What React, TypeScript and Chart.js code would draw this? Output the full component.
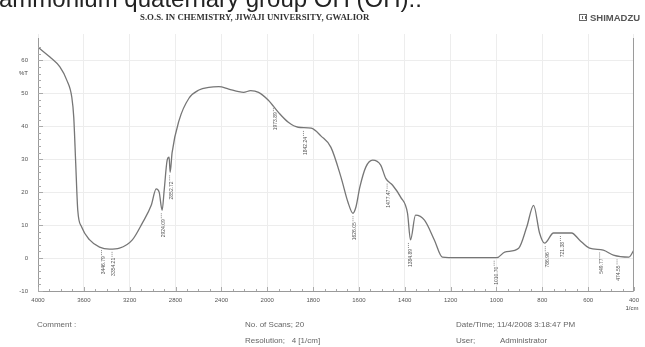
import React, { useEffect, useRef } from "react";
import { Chart, registerables } from "chart.js";

Chart.register(...registerables);

// Spectrum (wavenumber in 1/cm, transmittance in %T)
const wavenumbers = [
  4000, 3896, 3809, 3749, 3705, 3688, 3671, 3653, 3619, 3549, 3463, 3376, 3289, 3177, 3090, 3012,
  2969, 2943, 2917, 2899, 2873, 2856, 2847, 2830, 2769, 2683, 2596, 2509, 2422, 2336, 2249, 2206,
  2145, 2076, 1995, 1951, 1908, 1865, 1808, 1765, 1722, 1678, 1648, 1626, 1613, 1596, 1570, 1540,
  1505, 1483, 1453, 1418, 1388, 1375, 1353, 1314, 1271, 1236, 1171, 998, 964, 903, 868, 838, 812,
  790, 751, 672, 638, 594, 534, 490, 422, 400,
];
const transmittance = [
  64, 61, 58, 54, 48.8, 42.7, 28.8, 14.5, 9.4, 5.5, 3.3, 2.7, 3.0, 5.5, 10.6, 16,
  21, 20, 14.5, 20.6, 29.7, 30.6, 26, 32, 41.8, 48.5, 51, 51.8, 52, 51.3, 50.5, 50.3,
  50.8, 50.3, 47.9, 44.2, 41.2, 39.7, 39.4, 37, 33.6, 24.5, 17, 13.6, 15.5, 21.5, 27.6, 29.7,
  28.2, 24.2, 22.1, 18.5, 13.6, 5.5, 13, 11.5, 5.5, 0.3, 0.1, 0.1, 1.8, 3, 9.4, 16, 7.6,
  4.5, 7.6, 7.6, 5.5, 3, 2.4, 0.9, 0.3, 2.5,
];

const xTickWavenumbers = [4000, 3600, 3200, 2800, 2400, 2000, 1800, 1600, 1400, 1200, 1000, 800, 600, 400];
const yTickValues = [-10, 0, 10, 20, 30, 40, 50, 60];

const peakWavenumbers = [3446, 3354, 2924, 2852, 1973, 1842, 1626, 1477, 1384, 1010, 787, 721, 550, 474];
const peakTransmittance = [3.3, 2.8, 14.5, 26, 47, 39.5, 13.6, 23.5, 5.5, 0.1, 4.5, 7.6, 2.6, 0.5];
const peakLabels = [
  "3446.79", "3354.21", "2924.09", "2852.72", "1973.89", "1842.24", "1626.05",
  "1477.47", "1384.89", "1010.70", "786.96", "721.38", "549.77", "474.55",
];

// piecewise abscissa: 4000-2000 at half scale, 2000-400 at full scale
function toAxis(w: number) {
  return w >= 2000 ? (4000 - w) / 400 : 5 + (2000 - w) / 200;
}
function fromAxis(u: number) {
  return u <= 5 ? 4000 - 400 * u : 2000 - 200 * (u - 5);
}

const overlayPlugin = {
  id: "irOverlay",
  afterDraw(chart: any) {
    const ctx = chart.ctx;
    const xs = chart.scales.x;
    const ys = chart.scales.y;
    const area = chart.chartArea;
    ctx.save();
    // axis frame
    ctx.strokeStyle = "#9a9a9a";
    ctx.lineWidth = 1;
    ctx.beginPath();
    ctx.moveTo(area.left + 0.5, area.top + 4);
    ctx.lineTo(area.left + 0.5, area.bottom + 0.5);
    ctx.lineTo(area.right - 0.5, area.bottom + 0.5);
    ctx.lineTo(area.right - 0.5, area.top + 4);
    ctx.stroke();
    // minor ticks on y axis
    ctx.strokeStyle = "#aaaaaa";
    for (let v = -10; v <= 64; v += 2) {
      const py = Math.round(ys.getPixelForValue(v)) + 0.5;
      ctx.beginPath();
      ctx.moveTo(area.left, py);
      ctx.lineTo(area.left + (v % 10 === 0 ? 5 : 3), py);
      ctx.stroke();
    }
    // minor ticks on x axis
    for (let u = 0; u <= 13; u += 0.25) {
      const px = Math.round(xs.getPixelForValue(u)) + 0.5;
      ctx.beginPath();
      ctx.moveTo(px, area.bottom);
      ctx.lineTo(px, area.bottom - (Number.isInteger(u) ? 4 : 2));
      ctx.stroke();
    }
    // peak labels
    ctx.fillStyle = "#555";
    ctx.font = "5px 'Liberation Sans', Arial, sans-serif";
    peakWavenumbers.forEach((w, i) => {
      const px = xs.getPixelForValue(toAxis(w));
      const py = ys.getPixelForValue(peakTransmittance[i]);
      ctx.strokeStyle = "#888";
      ctx.setLineDash([1, 1]);
      ctx.beginPath();
      ctx.moveTo(px, py + 3);
      ctx.lineTo(px, py + 8);
      ctx.stroke();
      ctx.setLineDash([]);
      ctx.save();
      ctx.translate(px + 2, py + 9);
      ctx.rotate(-Math.PI / 2);
      ctx.textAlign = "right";
      ctx.textBaseline = "middle";
      ctx.fillText(peakLabels[i], 0, 0);
      ctx.restore();
    });
    // %T and 1/cm
    ctx.fillStyle = "#444";
    ctx.font = "6px 'Liberation Sans', Arial, sans-serif";
    ctx.textAlign = "right";
    ctx.textBaseline = "middle";
    ctx.fillText("%T", 28, ys.getPixelForValue(56));
    ctx.textAlign = "center";
    ctx.fillText("1/cm", area.right - 2, area.bottom + 17);
    ctx.restore();
  },
};

export default function App() {
  const canvasRef = useRef<HTMLCanvasElement | null>(null);

  useEffect(() => {
    document.body.style.margin = "0";
    const canvas = canvasRef.current;
    if (!canvas) return;
    const points = wavenumbers.map((w, i) => ({ x: toAxis(w), y: transmittance[i] }));
    const chart = new Chart(canvas, {
      type: "line",
      data: {
        datasets: [
          {
            data: points,
            borderColor: "#767676",
            borderWidth: 1.3,
            pointRadius: 0,
            fill: false,
            cubicInterpolationMode: "monotone",
          },
        ],
      },
      options: {
        animation: false,
        responsive: false,
        maintainAspectRatio: false,
        parsing: false as any,
        layout: { padding: { top: 34, right: 7, left: 0, bottom: 0 } },
        plugins: { legend: { display: false }, tooltip: { enabled: false }, title: { display: false } },
        scales: {
          x: {
            type: "linear",
            min: 0,
            max: 13,
            afterBuildTicks: (scale: any) => {
              scale.ticks = xTickWavenumbers.map((w) => ({ value: toAxis(w) }));
            },
            afterFit: (scale: any) => {
              scale.height = 56;
            },
            ticks: {
              maxRotation: 0,
              autoSkip: false,
              padding: 6,
              color: "#555",
              font: { size: 6, family: "'Liberation Sans', Arial, sans-serif" },
              callback: (v: any) => String(Math.round(fromAxis(Number(v)))),
            },
            grid: { color: "#ededed", lineWidth: 1, drawTicks: false },
            border: { display: false },
          },
          y: {
            min: -10,
            max: 68,
            afterBuildTicks: (scale: any) => {
              scale.ticks = yTickValues.map((v) => ({ value: v }));
            },
            afterFit: (scale: any) => {
              scale.width = 38;
            },
            ticks: {
              padding: 10,
              color: "#555",
              font: { size: 6, family: "'Liberation Sans', Arial, sans-serif" },
            },
            grid: { color: "#ededed", lineWidth: 1, drawTicks: false },
            border: { display: false },
          },
        },
      },
      plugins: [overlayPlugin],
    } as any);
    return () => chart.destroy();
  }, []);

  const small: React.CSSProperties = {
    position: "absolute",
    fontFamily: "'Liberation Sans', Arial, sans-serif",
    fontSize: "8px",
    color: "#666",
    whiteSpace: "pre",
    lineHeight: "9px",
  };

  return (
    <div style={{ position: "fixed", left: 0, top: 0, width: 645, height: 347, overflow: "hidden", background: "#fff" }}>
      <canvas ref={canvasRef} width={645} height={347} style={{ position: "absolute", left: 0, top: 0 }} />
      <div
        style={{
          position: "absolute",
          left: -1,
          top: -13,
          fontFamily: "'Liberation Sans', Arial, sans-serif",
          fontSize: "24px",
          lineHeight: "24px",
          color: "#222",
          whiteSpace: "nowrap",
        }}
      >
        ammonium quaternary group OH (OH).:
      </div>
      <div
        style={{
          position: "absolute",
          left: 140,
          top: 13,
          fontFamily: "'Liberation Serif', 'Times New Roman', serif",
          fontWeight: "bold",
          fontSize: "8.8px",
          lineHeight: "9px",
          color: "#333",
          whiteSpace: "nowrap",
        }}
      >
        S.O.S. IN CHEMISTRY,  JIWAJI UNIVERSITY, GWALIOR
      </div>
      <div style={{ position: "absolute", left: 579, top: 14, width: 8, height: 7, border: "1px solid #666", boxSizing: "border-box" }}>
        <div style={{ position: "absolute", left: 2, top: 1, width: 2, height: 3, borderLeft: "1px solid #666", borderRight: "1px solid #666" }} />
      </div>
      <div
        style={{
          position: "absolute",
          left: 590,
          top: 13,
          fontFamily: "'Liberation Sans', Arial, sans-serif",
          fontWeight: "bold",
          fontSize: "9.5px",
          lineHeight: "10px",
          color: "#555",
          whiteSpace: "nowrap",
        }}
      >
        SHIMADZU
      </div>
      <div style={{ ...small, left: 37, top: 320 }}>Comment :</div>
      <div style={{ ...small, left: 245, top: 320 }}>No. of Scans; 20</div>
      <div style={{ ...small, left: 456, top: 320 }}>Date/Time; 11/4/2008 3:18:47 PM</div>
      <div style={{ ...small, left: 245, top: 336 }}>Resolution;   4 [1/cm]</div>
      <div style={{ ...small, left: 456, top: 336 }}>User;</div>
      <div style={{ ...small, left: 500, top: 336 }}>Administrator</div>
    </div>
  );
}
